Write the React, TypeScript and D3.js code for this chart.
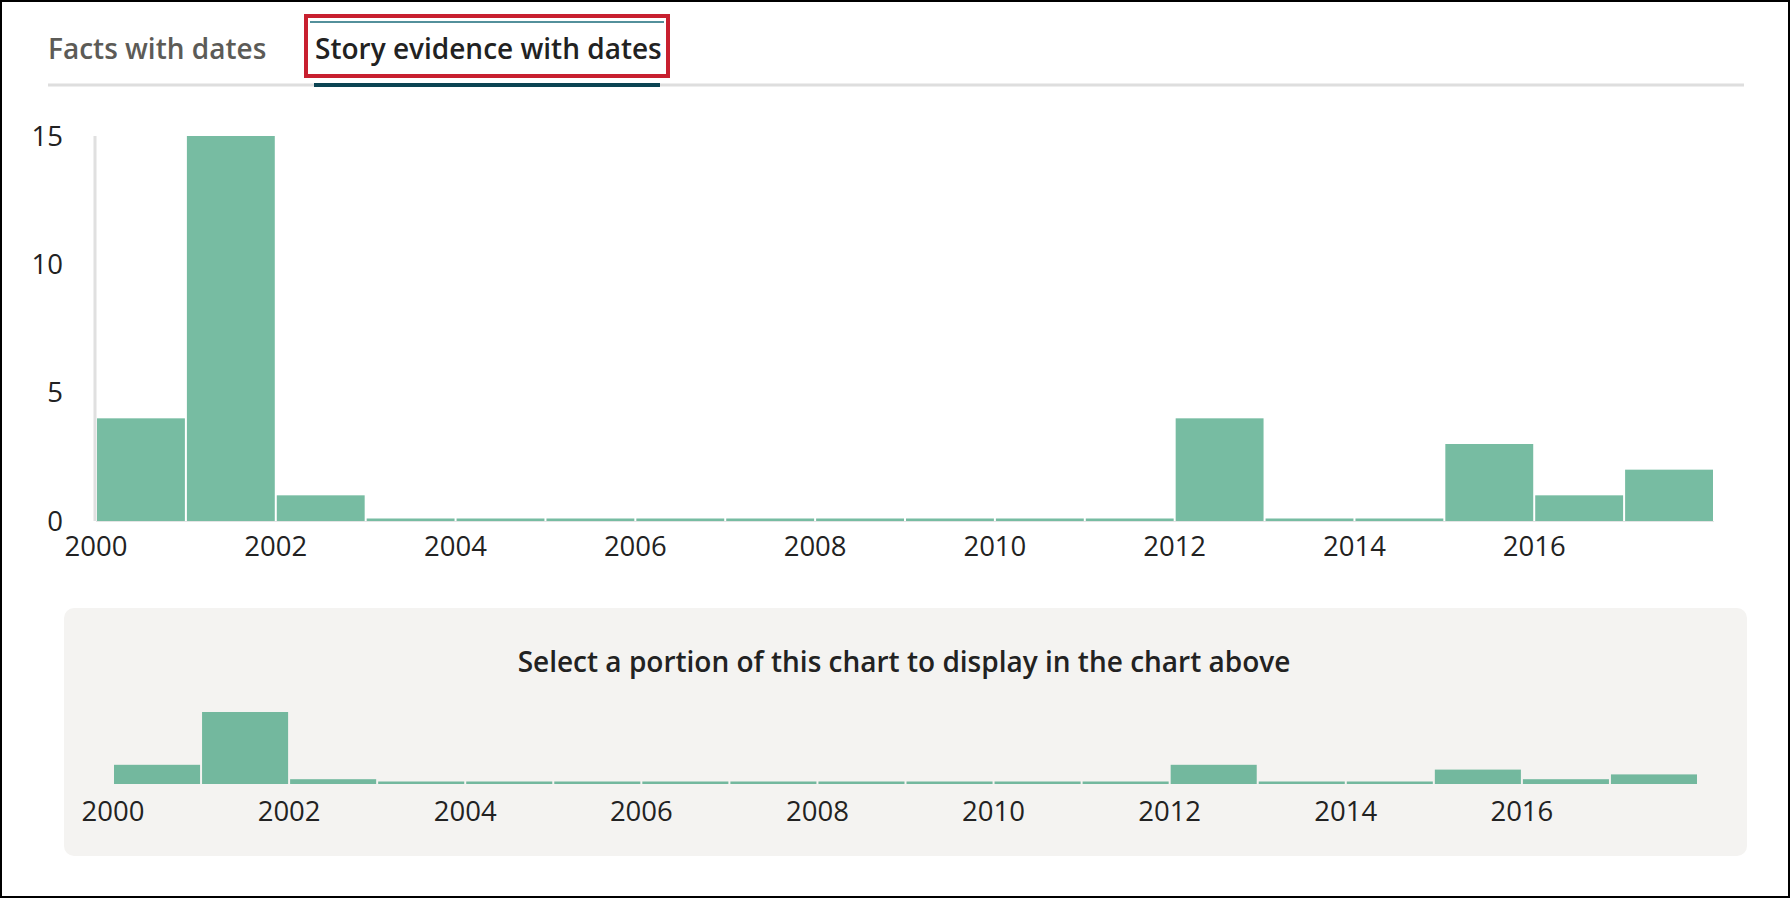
import * as d3 from 'd3';

const years = [2000, 2001, 2002, 2003, 2004, 2005, 2006, 2007, 2008, 2009, 2010, 2011, 2012, 2013, 2014, 2015, 2016, 2017];
const counts = [4, 15, 1, 0, 0, 0, 0, 0, 0, 0, 0, 0, 4, 0, 0, 3, 1, 2];
const xTicks = [2000, 2002, 2004, 2006, 2008, 2010, 2012, 2014, 2016];
const yTicks = [0, 5, 10, 15];
const tabLabels = ['Facts with dates', 'Story evidence with dates'];
const brushTitle = 'Select a portion of this chart to display in the chart above';

const W = 1790;
const H = 898;
const FONT = '"Open Sans", "Noto Sans", sans-serif';
const BAR = '#77bca2';
const MIN_H = 2.5;

export default function App() {
  const x = d3.scaleLinear().domain([2000, 2018]).range([96, 1714]);
  const y = d3.scaleLinear().domain([0, 15]).range([521, 136]);

  const xMini = d3.scaleLinear().domain([2000, 2018]).range([113, 1698]);
  const yMini = d3.scaleLinear().domain([0, 15]).range([784, 712]);

  return (
    <svg width={W} height={H} style={{ position: 'absolute', top: 0, left: 0, display: 'block' }} fontFamily={FONT}>
      <rect x={0} y={0} width={W} height={H} fill="#fff" />

      {/* tabs */}
      <line x1={48} x2={1744} y1={85} y2={85} stroke="#dedede" strokeWidth={3} />
      <line x1={314} x2={660} y1={85} y2={85} stroke="#0b4453" strokeWidth={4} />
      <text x={48} y={59} fontSize={28} fontWeight={600} fill="#5c5b57">{tabLabels[0]}</text>
      <line x1={310} x2={664} y1={22} y2={22} stroke="#1a6b7a" strokeWidth={1.5} />
      <text x={315} y={59} fontSize={28} fontWeight={600} fill="#222">{tabLabels[1]}</text>
      <rect x={306} y={16} width={362} height={60} fill="none" stroke="#c8202f" strokeWidth={4} />

      {/* main chart */}
      <line x1={x(2000)} x2={x(2018)} y1={y(0) + 0.5} y2={y(0) + 0.5} stroke="#e4e4e4" strokeWidth={1} />
      <line x1={x(2000) - 1} x2={x(2000) - 1} y1={y(15)} y2={y(0)} stroke="#e0e0e0" strokeWidth={3} />
      {years.map((yr, i) => {
        const top = Math.min(y(counts[i]), y(0) - MIN_H);
        return (
          <rect key={yr} x={x(yr) + 1} y={top} width={x(yr + 1) - x(yr) - 2} height={y(0) - top} fill={BAR} />
        );
      })}
      {yTicks.map(t => (
        <text key={t} x={63} y={y(t)} dy="0.35em" textAnchor="end" fontSize={27.5} fill="#222">{t}</text>
      ))}
      {xTicks.map(t => (
        <text key={t} x={x(t)} y={556} textAnchor="middle" fontSize={27.5} fill="#222">{t}</text>
      ))}

      {/* brush panel */}
      <rect x={64} y={608} width={1683} height={248} rx={10} fill="#f4f3f1" />
      <text x={904} y={672} textAnchor="middle" fontSize={28} fontWeight={600} fill="#222">{brushTitle}</text>
      {years.map((yr, i) => {
        const top = Math.min(yMini(counts[i]), yMini(0) - MIN_H);
        return (
          <rect key={yr} x={xMini(yr) + 1} y={top} width={xMini(yr + 1) - xMini(yr) - 2} height={yMini(0) - top} fill="#73b89e" />
        );
      })}
      {xTicks.map(t => (
        <text key={t} x={xMini(t)} y={821} textAnchor="middle" fontSize={27.5} fill="#222">{t}</text>
      ))}

      <rect x={1} y={1} width={W - 2} height={H - 2} fill="none" stroke="#000" strokeWidth={2} />
    </svg>
  );
}
